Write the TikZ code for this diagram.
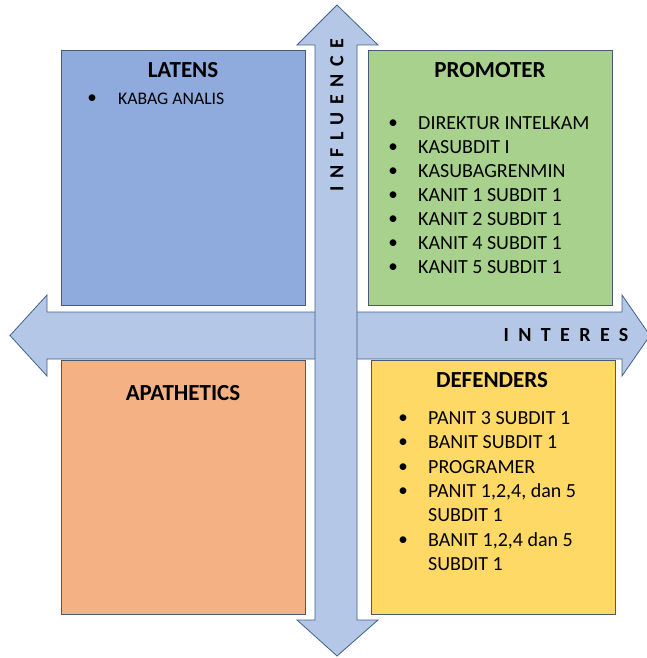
\documentclass[tikz,border=0pt]{standalone}
\usepackage{fontspec}
\setmainfont{Carlito}
\definecolor{arrowfill}{HTML}{B4C7E7}
\definecolor{arrowline}{HTML}{41608F}
\definecolor{boxline}{HTML}{4A5A70}
\definecolor{latfill}{HTML}{8FAADC}
\definecolor{profill}{HTML}{A9D18E}
\definecolor{apafill}{HTML}{F4B183}
\definecolor{deffill}{HTML}{FFD966}
\begin{document}
\begin{tikzpicture}[x=1pt,y=-1pt,
  arrowshape/.style={fill=arrowfill,draw=arrowline,line width=0.8pt,line join=miter},
  quad/.style={draw=boxline,line width=0.8pt},
  title/.style={anchor=base,inner sep=0pt,font=\fontsize{23}{26}\selectfont\bfseries},
  itemtext/.style={anchor=base west,inner sep=0pt,font=\fontsize{20}{24}\selectfont},
  smalltext/.style={anchor=base west,inner sep=0pt,font=\fontsize{17.7}{21}\selectfont},
  bul/.style={anchor=base,inner sep=0pt,font=\fontsize{19}{20}\selectfont},
  axislabel/.style={inner sep=0pt,font=\fontsize{20}{22}\selectfont\bfseries}]
\useasboundingbox (0,0) rectangle (647,658);
% horizontal arrow
\path[arrowshape] (10,335.5) -- (47,295) -- (47,312) -- (622,312) -- (622,295)
  -- (650,335.5) -- (622,376) -- (622,359) -- (47,359) -- (47,376) -- cycle;
% vertical arrow
\path[arrowshape] (337,5) -- (378,45) -- (357,45) -- (357,620) -- (378,620)
  -- (337,656) -- (297,620) -- (315,620) -- (315,45) -- (297,45) -- cycle;
% quadrants
\path[quad,fill=latfill] (61,50) rectangle (305,305);
\path[quad,fill=profill] (368,50) rectangle (612,305);
\path[quad,fill=apafill] (61,360) rectangle (305,614);
\path[quad,fill=deffill] (371,360) rectangle (615,614);
% axis labels
\node[axislabel,rotate=90] (influence) at (337,115) {\addfontfeature{LetterSpace=38}INFLUENCE};
\node[axislabel] (interes) at (566,335.5) {\addfontfeature{LetterSpace=47}INTERES};
% titles
\node[title] (latens) at (183,77.5) {LATENS};
\node[title] (promoter) at (490,77.5) {PROMOTER};
\node[title] (apathetics) at (183,400.5) {APATHETICS};
\node[title] (defenders) at (492,387.5) {DEFENDERS};
% latens list
\node[bul] (lb1) at (92,104) {•};
\node[smalltext] (l1) at (118,105) {KABAG ANALIS};
% promoter list
\foreach \t [count=\i from 0] in {DIREKTUR INTELKAM,KASUBDIT I,KASUBAGRENMIN,KANIT 1 SUBDIT 1,KANIT 2 SUBDIT 1,KANIT 4 SUBDIT 1,KANIT 5 SUBDIT 1}{
  \node[bul] (pb\i) at (393,128.5+24*\i) {•};
  \node[itemtext] (p\i) at (418,129.5+24*\i) {\t};
}
% defenders list
\foreach \t/\b [count=\i from 0] in {PANIT 3 SUBDIT 1/1,BANIT SUBDIT 1/1,PROGRAMER/1,{PANIT 1,2,4, dan 5}/1,SUBDIT 1/0,{BANIT 1,2,4 dan 5}/1,SUBDIT 1/0}{
  \ifnum\b=1 \node[bul] (db\i) at (403,423.5+24.3*\i) {•};\fi
  \node[itemtext] (d\i) at (428,424.5+24.3*\i) {\t};
}
\end{tikzpicture}
\end{document}
